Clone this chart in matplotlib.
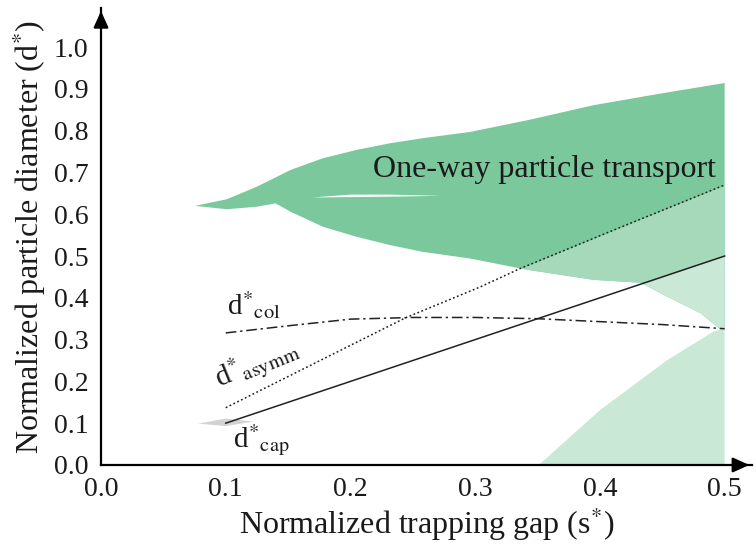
import matplotlib.pyplot as plt
from matplotlib.patches import Polygon

plt.rcParams['font.family'] = ['Liberation Serif', 'DejaVu Serif']
plt.rcParams['mathtext.fontset'] = 'stix'

# outline of the one-way transport region (s*, d*)
upper_s = [0.0754, 0.101, 0.125, 0.152, 0.178, 0.205, 0.232, 0.258, 0.296, 0.342, 0.395, 0.449, 0.500]
upper_d = [0.620, 0.636, 0.666, 0.706, 0.734, 0.754, 0.770, 0.782, 0.797, 0.825, 0.861, 0.889, 0.914]
lower_s = [0.0754, 0.101, 0.125, 0.140, 0.152, 0.178, 0.205, 0.232, 0.258, 0.296, 0.342, 0.395,
           0.433, 0.454, 0.481, 0.495, 0.500]
lower_d = [0.620, 0.612, 0.618, 0.626, 0.606, 0.570, 0.546, 0.526, 0.510, 0.494, 0.467, 0.443,
           0.436, 0.403, 0.363, 0.328, 0.327]

# bottom wedge
tri_s = [0.351, 0.400, 0.454, 0.491, 0.500, 0.500]
tri_d = [0.000, 0.131, 0.251, 0.319, 0.327, 0.000]

# white sliver inside the dark region
gap_s = [0.169, 0.200, 0.230, 0.272, 0.230, 0.200]
gap_d = [0.640, 0.647, 0.647, 0.644, 0.642, 0.641]

# grey patch at start of d*cap
grey_s = [0.078, 0.100, 0.122, 0.100]
grey_d = [0.099, 0.111, 0.104, 0.093]

# boundary curves
cap_s = [0.1, 0.5]
cap_d = [0.1, 0.5]
asym_s = [0.100, 0.244, 0.304, 0.336, 0.411, 0.500]
asym_d = [0.137, 0.352, 0.426, 0.470, 0.562, 0.670]
col_s = [0.10, 0.15, 0.20, 0.25, 0.30, 0.35, 0.40, 0.45, 0.50]
col_d = [0.316, 0.333, 0.349, 0.353, 0.353, 0.350, 0.343, 0.336, 0.326]

xticks = [0.0, 0.1, 0.2, 0.3, 0.4, 0.5]
yticks = [0.0, 0.1, 0.2, 0.3, 0.4, 0.5, 0.6, 0.7, 0.8, 0.9, 1.0]

dark = '#7ac89c'
mid = '#a6d9ba'
light = '#c9e8d5'

fig = plt.figure(figsize=(7.56, 5.48), dpi=100)
ax = fig.add_axes([0.1336, 0.1515, 0.8612, 0.8335])

env = Polygon(list(zip(upper_s, upper_d)) + list(zip(lower_s, lower_d))[::-1],
              closed=True, facecolor=dark, edgecolor='none')
ax.add_patch(env)
m = ax.fill_between(asym_s, 0, asym_d, color=mid, lw=0)
m.set_clip_path(env)
l = ax.fill_between(cap_s, 0, cap_d, color=light, lw=0)
l.set_clip_path(env)
ax.add_patch(Polygon(list(zip(tri_s, tri_d)), closed=True, facecolor=light, edgecolor='none'))
ax.add_patch(Polygon(list(zip(gap_s, gap_d)), closed=True, facecolor='white', edgecolor='none'))
ax.add_patch(Polygon(list(zip(grey_s, grey_d)), closed=True, facecolor='#d3d3d3', edgecolor='none'))

ax.plot(cap_s, cap_d, color='#222222', lw=1.1)
ax.plot(asym_s, asym_d, color='#222222', lw=1.1, ls=(0, (1.2, 1.6)))
ax.plot(col_s, col_d, color='#222222', lw=1.1, ls=(0, (7, 2.5, 1.5, 2.5)))

ax.text(0.218, 0.706, 'One-way particle transport', fontsize=23, ha='left', va='center', color='#1a1a1a')
ax.text(0.101, 0.359, r'd$^{*}{}_{\mathrm{col}}$', fontsize=21, color='#1a1a1a')
ax.text(0.095, 0.184, r'd$^{*}{}_{\mathrm{asymm}}$', fontsize=21, color='#1a1a1a',
        rotation=22, rotation_mode='anchor')
ax.text(0.106, 0.040, r'd$^{*}{}_{\mathrm{cap}}$', fontsize=21, color='#1a1a1a')

ax.set_xlim(0, 0.522)
ax.set_ylim(0, 1.093)
ax.set_xticks(xticks)
ax.set_yticks(yticks)
ax.set_xticklabels([f'{v:.1f}' for v in xticks])
ax.set_yticklabels([f'{v:.1f}' for v in yticks])
ax.tick_params(length=0, labelsize=20, pad=9, colors='#1a1a1a')
for s in ['top', 'right']:
    ax.spines[s].set_visible(False)
for s in ['left', 'bottom']:
    ax.spines[s].set_linewidth(1.6)
ax.annotate('', xy=(1.0, 0), xytext=(0.97, 0), xycoords='axes fraction',
            arrowprops=dict(arrowstyle='-|>,head_length=1.0,head_width=0.45', color='black', lw=1.6))
ax.annotate('', xy=(0, 1.0), xytext=(0, 0.96), xycoords='axes fraction',
            arrowprops=dict(arrowstyle='-|>,head_length=1.0,head_width=0.45', color='black', lw=1.6))

ax.set_xlabel(r'Normalized trapping gap (s$^{*}$)', fontsize=23, labelpad=2, color='#1a1a1a')
ax.set_ylabel(r'Normalized particle diameter (d$^{*}$)', fontsize=23, labelpad=4, color='#1a1a1a')

fig.savefig('out.png', dpi=100)
